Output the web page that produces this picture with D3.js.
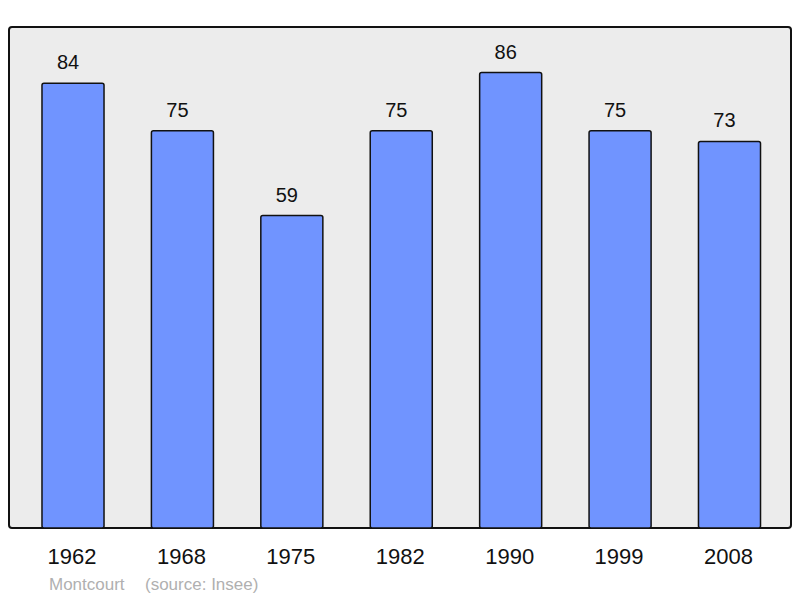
<!DOCTYPE html>
<html><head><meta charset="utf-8">
<script src="https://cdn.jsdelivr.net/npm/d3@7"></script>
<style>body{margin:0;background:#fff}svg{display:block}</style>
</head><body>
<svg id="c" width="800" height="598"></svg>
<script>
const years = ["1962","1968","1975","1982","1990","1999","2008"];
const population = [84,75,59,75,86,75,73];
const commune = "Montcourt";
const source = "(source: Insee)";

const svg = d3.select("#c");
const font = "Liberation Sans, Arial, sans-serif";
const panel = {x0: 9, y0: 27, x1: 791, y1: 528};

svg.append("rect").attr("x", panel.x0).attr("y", panel.y0)
  .attr("width", panel.x1 - panel.x0).attr("height", panel.y1 - panel.y0)
  .attr("rx", 3).attr("fill", "#ececec").attr("stroke", "#111").attr("stroke-width", 2);

const x = d3.scaleBand().domain(years).range([18.3, 784.2]).paddingInner(0.433).paddingOuter(0.2165);
const y = d3.scaleLinear().domain([0, d3.max(population) * 1.1]).range([panel.y1, panel.y0]);

const data = years.map((yr, i) => ({yr, v: population[i]}));

svg.selectAll("rect.bar").data(data).enter().append("rect").attr("class", "bar")
  .attr("x", d => x(d.yr)).attr("y", d => y(d.v))
  .attr("width", x.bandwidth()).attr("height", d => y(0) - y(d.v))
  .attr("rx", 2).attr("fill", "#7094ff").attr("stroke", "#111").attr("stroke-width", 1.5);

svg.selectAll("text.val").data(data).enter().append("text").attr("class", "val")
  .attr("x", d => x(d.yr) + x.bandwidth() / 2 - 5).attr("y", d => y(d.v) - 14)
  .attr("text-anchor", "middle").attr("font-family", font).attr("font-size", 20)
  .attr("fill", "#111").text(d => d.v);

svg.selectAll("text.yr").data(data).enter().append("text").attr("class", "yr")
  .attr("x", d => x(d.yr) + x.bandwidth() / 2 - 1).attr("y", 564)
  .attr("text-anchor", "middle").attr("font-family", font).attr("font-size", 22)
  .attr("fill", "#111").text(d => d.yr);

svg.append("text").attr("x", 49).attr("y", 589.5).attr("font-family", font).attr("font-size", 17)
  .attr("fill", "#b0b0b0").text(commune);
svg.append("text").attr("x", 145).attr("y", 589.5).attr("font-family", font).attr("font-size", 17)
  .attr("fill", "#b0b0b0").text(source);
</script>
</body></html>
